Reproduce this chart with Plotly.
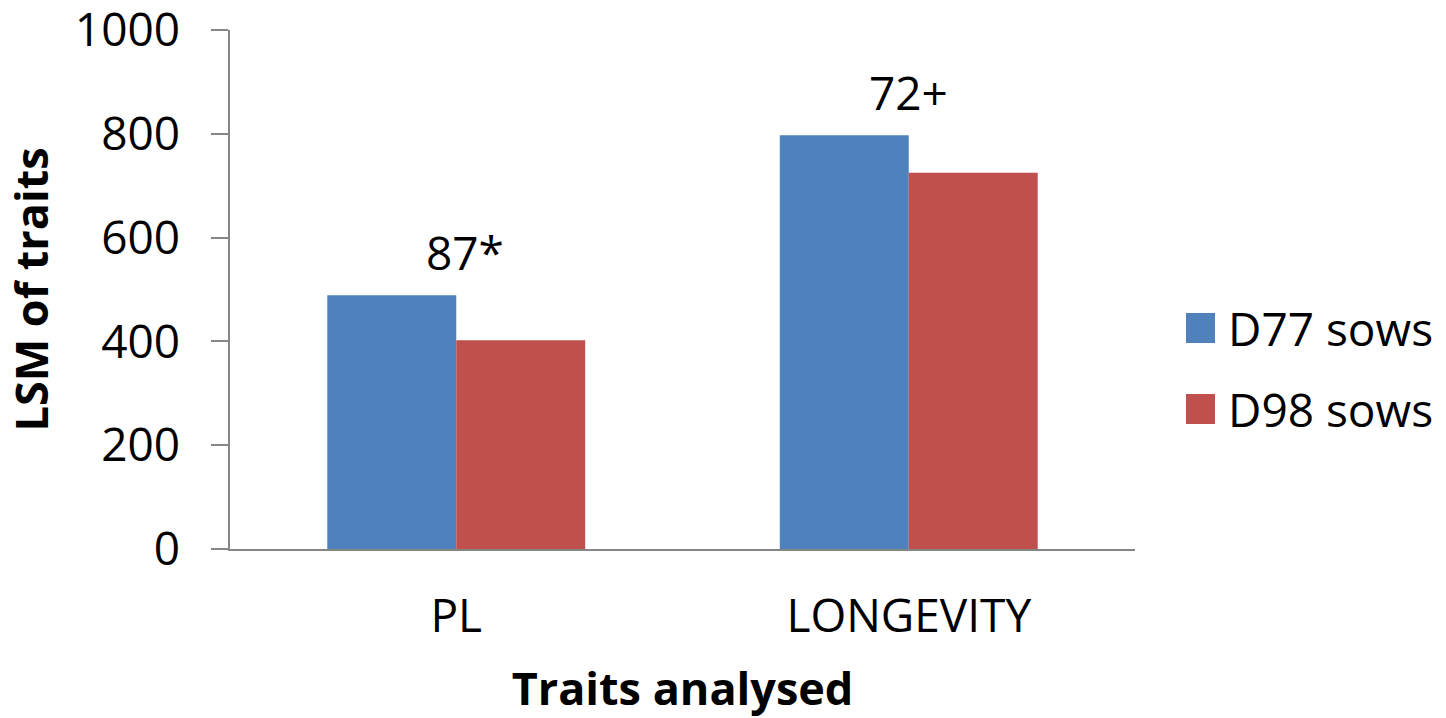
import plotly.graph_objects as go

# Least-squares means of the analysed traits for the two sow groups
traits = ["PL", "LONGEVITY"]
series_names = ["D77 sows", "D98 sows"]
d77_values = [489, 797]
d98_values = [402, 725]
diff_labels = ["87*", "72+"]
y_ticks = [0, 200, 400, 600, 800, 1000]

colors = ["#4F81BD", "#C0504D"]
FONT = "Open Sans"

W, H = 1446, 718
ML, MR, MT, MB = 230, 311, 30, 169
plot_w = W - ML - MR
plot_h = H - MT - MB


def px_x(x):
    return (x - ML) / plot_w


def px_y(y):
    return (H - MB - y) / plot_h


fig = go.Figure()
for name, vals, col in zip(series_names, [d77_values, d98_values], colors):
    fig.add_trace(go.Bar(
        x=traits, y=vals, name=name,
        marker=dict(color=col, line=dict(width=0)),
        showlegend=False,
    ))

# difference labels above each trait group
label_xshift = [9, 0]
for trait, top, txt, xs in zip(traits, d77_values, diff_labels, label_xshift):
    fig.add_annotation(
        x=trait, y=top, text=txt, showarrow=False,
        xref="x", yref="y", yanchor="middle", yshift=43, xshift=xs,
        font=dict(family=FONT, size=46, color="#000000"),
    )

# legend: coloured squares with series names
legend_centers = [328, 409]
for name, col, cy in zip(series_names, colors, legend_centers):
    fig.add_shape(
        type="rect", xref="paper", yref="paper",
        x0=px_x(1186), x1=px_x(1215), y0=px_y(cy + 15), y1=px_y(cy - 15),
        fillcolor=col, line=dict(width=0),
    )
    fig.add_annotation(
        x=px_x(1226), y=px_y(cy), xref="paper", yref="paper",
        text=name, showarrow=False, xanchor="left", yanchor="middle",
        font=dict(family=FONT, size=46, color="#000000"),
    )

fig.update_layout(
    width=W, height=H,
    margin=dict(l=ML, r=MR, t=MT, b=MB, autoexpand=False),
    paper_bgcolor="white", plot_bgcolor="white",
    barmode="group", bargap=0.43, bargroupgap=0,
    font=dict(family=FONT, color="#000000"),
    showlegend=False,
)

fig.update_xaxes(
    showline=True, linecolor="#868686", linewidth=1.5,
    ticks="", showgrid=False, zeroline=False,
    tickfont=dict(family=FONT, size=46, color="#000000"),
    ticklabelstandoff=26,
    title=dict(text="<b>Traits analysed</b>", standoff=44,
               font=dict(family=FONT, size=45, color="#000000")),
)
fig.update_yaxes(
    range=[0, 1000], tickvals=y_ticks,
    showline=True, linecolor="#868686", linewidth=1.5,
    ticks="outside", ticklen=17, tickcolor="#868686", tickwidth=1.5,
    showgrid=False, zeroline=False,
    tickfont=dict(family=FONT, size=46, color="#000000"),
    ticklabelstandoff=22, ticklabeloverflow="allow",
    title=dict(text="<b>LSM of traits</b>", standoff=25,
               font=dict(family=FONT, size=45, color="#000000")),
)

fig.write_html("out.html")
